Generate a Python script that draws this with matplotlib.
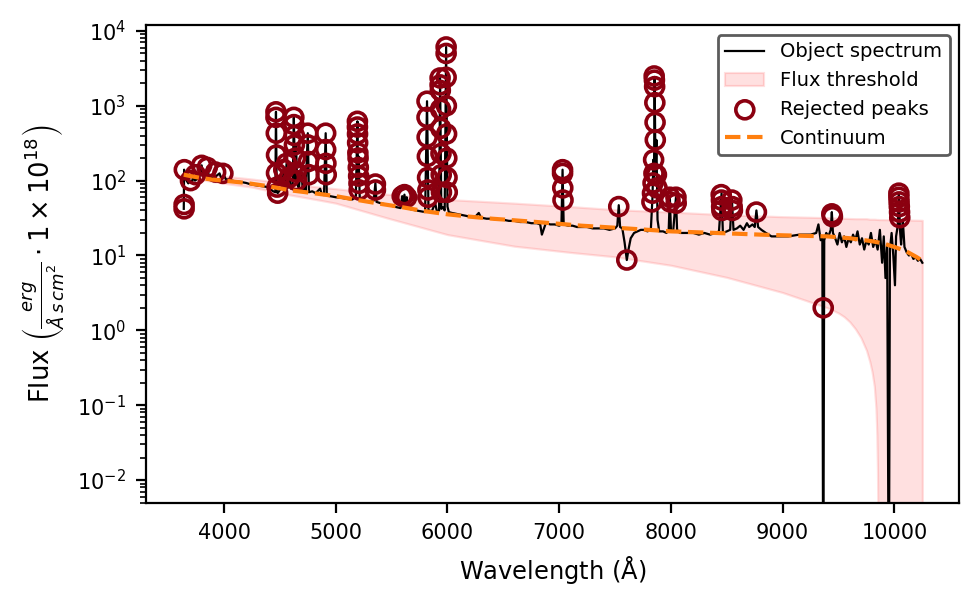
import matplotlib
matplotlib.use("Agg")
import matplotlib.pyplot as plt

# object spectrum (wavelength in Angstrom, flux in 1e-18 erg/s/cm2/A)
spec_wave = [3640, 3643, 3650, 3665, 3680, 3700, 3715, 3725, 3740, 3760, 3780, 3800, 3812, 3830, 3850,
             3865, 3890, 3920, 3960, 3975, 4000, 4015, 4050, 4100, 4150, 4200, 4230, 4260, 4300, 4350,
             4390, 4420, 4440, 4460, 4465, 4472, 4480, 4500, 4520, 4535, 4545, 4560, 4570, 4585, 4600,
             4615, 4625, 4635, 4645, 4655, 4670, 4690, 4705, 4720, 4730, 4750, 4760, 4790, 4820, 4860,
             4875, 4895, 4910, 4920, 4950, 5000, 5050, 5100, 5150, 5180, 5194, 5200, 5205, 5215, 5240,
             5270, 5300, 5340, 5355, 5365, 5400, 5450, 5500, 5550, 5580, 5595, 5605, 5615, 5625, 5635,
             5645, 5680, 5720, 5760, 5800, 5817, 5830, 5860, 5890, 5905, 5925, 5934, 5945, 5960, 5975,
             5988, 6000, 6012, 6040, 6080, 6120, 6160, 6200, 6250, 6280, 6300, 6350, 6400, 6450, 6500,
             6550, 6600, 6650, 6700, 6750, 6800, 6830, 6845, 6860, 6880, 6920, 6960, 7000, 7020, 7030,
             7040, 7080, 7120, 7160, 7200, 7250, 7300, 7350, 7400, 7450, 7500, 7520, 7533, 7545, 7565,
             7585, 7605, 7620, 7640, 7670, 7700, 7730, 7760, 7790, 7820, 7835, 7842, 7848, 7854, 7862,
             7870, 7880, 7895, 7930, 7960, 7980, 7990, 8000, 8020, 8045, 8055, 8080, 8120, 8160, 8200,
             8250, 8300, 8350, 8400, 8430, 8453, 8465, 8500, 8530, 8545, 8560, 8590, 8620, 8650, 8680,
             8700, 8730, 8750, 8765, 8780, 8810, 8850, 8900, 8950, 9000, 9050, 9100, 9150, 9200, 9250,
             9300, 9320, 9340, 9355, 9363, 9372, 9390, 9410, 9430, 9440, 9450, 9470, 9490, 9510, 9530,
             9550, 9570, 9590, 9610, 9630, 9650, 9670, 9690, 9710, 9730, 9750, 9770, 9790, 9810, 9830,
             9850, 9870, 9890, 9905, 9920, 9935, 9950, 9960, 9975, 9990, 10005, 10015, 10030, 10040, 10050,
             10060, 10075, 10090, 10110, 10130, 10150, 10170, 10190, 10210, 10230, 10250]
spec_flux = [42, 140, 118, 100, 92, 100, 95, 120, 100, 105, 112, 160, 118, 110, 150,
             115, 108, 112, 125, 108, 118, 105, 102, 98, 96, 93, 90, 88, 86, 84,
             82, 76, 72, 70, 830, 72, 68, 75, 80, 140, 78, 170, 80, 115, 78,
             90, 700, 100, 300, 90, 80, 150, 75, 100, 72, 430, 70, 72, 68, 78,
             66, 64, 430, 63, 62, 60, 59, 57, 56, 62, 620, 90, 210, 58, 55,
             52, 52, 54, 93, 52, 50, 48, 46, 44, 43, 62, 45, 65, 45, 60,
             43, 41, 40, 39, 38, 1150, 40, 39, 50, 39, 40, 2350, 42, 44, 40,
             6100, 45, 38, 37, 36, 35, 34, 33, 33, 37, 32, 31, 31, 30, 30,
             29, 29, 28, 28, 27, 27, 26, 19, 22, 27, 26, 26, 25, 26, 140,
             26, 25, 25, 24, 24, 24, 23, 23, 23, 22, 23, 25, 47, 24, 23,
             15, 8.7, 12, 17, 20, 21, 22, 22, 21, 22, 60, 190, 90, 2430, 120,
             350, 30, 21, 21, 20, 22, 60, 22, 21, 60, 22, 20, 20, 20, 20,
             19, 20, 19, 20, 21, 68, 20, 21, 22, 58, 22, 23, 25, 22, 27,
             24, 26, 24, 40, 24, 22, 20, 18, 18, 18, 18, 18.5, 19, 19, 19,
             20, 26, 16, 18, 1e-4, 16, 20, 18, 22, 38, 20, 17, 14, 20, 15,
             18, 13, 17, 15, 19, 16, 21, 14, 17, 12, 16, 14, 20, 13, 16,
             12, 22, 8, 18, 5, 14, 1e-4, 12, 20, 10, 4, 18, 25, 68, 22,
             14, 30, 13, 11, 10, 10.5, 9, 9.5, 8.5, 9, 8]

# fitted continuum
cont_wave = [3640, 3700, 3800, 3900, 4000, 4200, 4400, 4600, 4800, 5000, 5200, 5400, 5600, 5800,
             6000, 6200, 6400, 6600, 6800, 7000, 7200, 7400, 7600, 7800, 8000, 8200, 8400, 8600,
             8800, 9000, 9200, 9400, 9600, 9800, 9900, 10000, 10100, 10200, 10250]
cont_flux = [120, 115, 108, 103, 100, 93, 84, 74, 68, 62, 55, 49, 44, 39,
             35.5, 33, 31, 29.5, 28, 26.5, 25, 24, 23, 22, 21, 20.5, 20, 19.5,
             19, 18.6, 18.3, 18, 17, 15.5, 14.5, 13, 11.5, 9.5, 8.5]

# flux threshold band
band_wave = [3640, 4000, 4250, 4500, 4850, 5000, 5450, 6000, 6600, 7100, 7500, 8000, 8500, 9000,
             9400, 9450, 9500, 9550, 9600, 9650, 9700, 9750, 9780, 9800, 9820, 9835, 9843, 9848,
             9852, 9860, 10000, 10250]
band_low = [112, 92, 82, 68, 55, 50, 32, 19, 13.3, 11, 9.6, 7.4, 5.1, 3.2,
            2.0, 1.85, 1.7, 1.52, 1.3, 1.05, 0.8, 0.54, 0.38, 0.28, 0.18, 0.09, 0.04, 0.015,
            0.004, 1e-6, 1e-6, 1e-6]
band_high = [135, 115, 105, 95, 82, 78, 66, 56, 50, 45, 41, 38, 35, 33,
             32, 31.8, 31.6, 31.4, 31.2, 31, 31, 31, 30.5, 30.5, 30.5, 30.4, 30.3, 30.3,
             30.3, 30.2, 30, 29.5]

# rejected peaks
peak_wave = [3643, 3643, 3645, 3700, 3745, 3800, 3850, 3925, 3990,
             4465, 4465, 4468, 4470, 4470, 4475, 4480, 4535, 4560, 4585,
             4625, 4625, 4630, 4630, 4640, 4645, 4650, 4750, 4750, 4755, 4760,
             4910, 4910, 4912, 4915,
             5194, 5194, 5195, 5196, 5198, 5200, 5202, 5205, 5208, 5210, 5355, 5355,
             5595, 5615, 5635,
             5817, 5817, 5818, 5820, 5822, 5825, 5825,
             5934, 5934, 5936, 5938, 5940, 5942, 5944, 5946,
             5988, 5988, 5988, 5990, 5992, 5994, 5996, 5998,
             7030, 7030, 7032, 7034, 7533, 7605,
             7850, 7852, 7854, 7856, 7858, 7860, 7845, 7848, 7840, 7835, 7830, 7870, 7875,
             7990, 7992, 8045, 8047, 8450, 8452, 8454, 8456, 8545, 8548, 8550, 8765,
             9363, 9440, 9445,
             10040, 10040, 10042, 10044, 10046, 10048]
peak_flux = [42, 48, 140, 100, 120, 160, 150, 130, 125,
             830, 700, 430, 220, 126, 82, 68, 140, 170, 110,
             700, 560, 400, 300, 200, 130, 100, 430, 300, 180, 120,
             430, 260, 170, 120,
             620, 520, 420, 320, 235, 200, 150, 115, 92, 75, 90, 75,
             62, 65, 60,
             1150, 700, 380, 210, 110, 75, 60,
             2350, 1900, 1600, 900, 500, 230, 120, 70,
             6100, 5000, 2400, 1000, 420, 200, 110, 70,
             140, 125, 80, 55, 45, 8.7,
             2500, 2200, 1800, 1100, 600, 350, 190, 125, 93, 68, 52, 120, 80,
             60, 52, 60, 50, 65, 55, 45, 40, 55, 45, 40, 38,
             2.0, 36, 33,
             68, 60, 52, 45, 38, 32]

fig = plt.figure(figsize=(979 / 200, 609 / 200), dpi=200)
ax = fig.add_axes([0.1488, 0.1736, 0.8311, 0.7854])

ax.plot(spec_wave, spec_flux, color="black", lw=0.8, label="Object spectrum")
ax.fill_between(band_wave, band_low, band_high, color="red", alpha=0.12, lw=0.8,
                label="Flux threshold")
ax.scatter(peak_wave, peak_flux, s=42, facecolors="none", edgecolors="#8b0010",
           linewidths=1.3, label="Rejected peaks", zorder=3)
ax.plot(cont_wave, cont_flux, color="tab:orange", ls="--", lw=1.5, label="Continuum", zorder=4)

ax.set_yscale("log")
ax.set_xlim(3299, 10581)
ax.set_ylim(0.0049, 1.2e4)
ax.tick_params(labelsize=7.5)
ax.set_xlabel(r"Wavelength ($\mathrm{\AA}$)", fontsize=8.7)
ax.set_ylabel(r"Flux $\left(\frac{erg}{\AA\,s\,cm^2} \cdot 1\times10^{18}\right)$", fontsize=9.3)

leg = ax.legend(loc="upper right", fontsize=7, edgecolor="0.2", fancybox=True)

fig.savefig("out.png", dpi=200)
